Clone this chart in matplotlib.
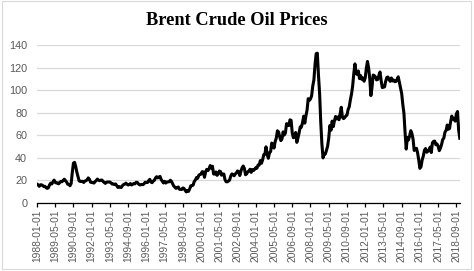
import numpy as np
import matplotlib.pyplot as plt
from matplotlib.patches import Rectangle

# monthly Brent spot price, USD/bbl, 1988-01 .. 2018-12
prices = [
    16.75, 16.03, 14.74, 16.12, 16.08, 15.52, 14.54, 14.78, 13.51, 12.95, 13.43, 15.99,   # 1988
    17.58, 16.83, 18.58, 20.29, 18.28, 17.67, 17.87, 16.97, 18.06, 19.14, 18.85, 20.03,   # 1989
    21.04, 19.83, 18.57, 16.60, 16.36, 15.27, 17.32, 27.16, 35.30, 36.00, 32.25, 27.24,   # 1990
    23.55, 19.56, 19.08, 19.18, 19.19, 18.17, 19.40, 19.77, 20.50, 22.21, 21.11, 18.41,   # 1991
    18.16, 18.05, 17.63, 18.92, 19.89, 21.16, 20.25, 19.74, 20.27, 20.28, 19.13, 18.15,   # 1992
    17.36, 18.43, 18.58, 18.57, 18.56, 17.78, 16.76, 16.88, 16.30, 16.87, 15.26, 13.82,   # 1993
    14.56, 13.82, 13.77, 15.36, 16.37, 16.63, 17.64, 16.66, 15.94, 16.32, 17.23, 15.94,   # 1994
    16.57, 17.23, 16.95, 18.33, 18.25, 17.00, 16.04, 16.05, 16.52, 16.22, 17.05, 18.44,   # 1995
    18.18, 18.14, 19.78, 20.93, 18.63, 17.98, 19.39, 20.02, 22.10, 23.27, 22.22, 23.02,   # 1996
    23.50, 20.76, 19.33, 17.75, 19.17, 17.66, 18.63, 18.68, 18.79, 20.14, 19.19, 17.13,   # 1997
    15.04, 13.95, 12.96, 13.45, 14.17, 12.17, 12.06, 11.95, 13.31, 12.87, 11.23, 9.82,    # 1998
    11.09, 10.29, 12.50, 15.25, 15.38, 15.82, 19.02, 20.32, 22.54, 21.89, 24.54, 25.34,   # 1999
    25.51, 27.78, 27.49, 22.76, 27.74, 29.80, 28.68, 30.20, 33.14, 30.96, 32.55, 25.66,   # 2000
    25.62, 27.50, 24.50, 25.66, 28.31, 27.85, 24.61, 25.68, 25.62, 20.54, 18.80, 18.71,   # 2001
    19.42, 20.28, 23.70, 25.73, 25.35, 24.08, 25.74, 26.65, 28.40, 27.54, 24.34, 28.33,   # 2002
    31.18, 32.77, 30.61, 25.00, 25.86, 27.65, 28.35, 29.89, 27.11, 29.61, 28.75, 29.81,   # 2003
    31.28, 30.86, 33.63, 33.59, 37.57, 35.18, 38.22, 42.74, 43.20, 49.78, 43.11, 39.60,   # 2004
    44.51, 45.48, 53.10, 51.88, 48.65, 54.35, 57.52, 63.98, 62.91, 58.54, 55.24, 56.86,   # 2005
    62.99, 60.21, 62.06, 70.26, 69.78, 68.56, 73.67, 73.23, 61.96, 57.81, 58.76, 62.47,   # 2006
    53.68, 57.56, 62.05, 67.49, 67.21, 71.05, 76.93, 70.76, 77.17, 82.34, 92.41, 90.93,   # 2007
    92.18, 94.99, 103.64, 109.07, 122.80, 132.32, 132.72, 113.24, 97.23, 71.58, 52.45, 39.95,  # 2008
    43.44, 43.32, 46.54, 50.18, 57.30, 68.61, 64.44, 72.51, 67.65, 72.77, 76.66, 74.46,   # 2009
    76.17, 73.75, 78.83, 84.82, 75.95, 74.76, 75.58, 77.04, 77.84, 82.67, 85.28, 91.45,   # 2010
    96.52, 103.72, 114.64, 123.26, 114.99, 113.83, 116.97, 110.22, 112.83, 109.55, 110.77, 107.87,  # 2011
    110.69, 119.33, 125.45, 119.75, 110.34, 95.16, 102.62, 113.36, 112.86, 111.71, 109.06, 109.49,  # 2012
    112.96, 116.05, 108.47, 102.25, 102.56, 102.92, 107.93, 111.28, 111.60, 109.08, 107.79, 110.76,  # 2013
    108.12, 108.90, 107.48, 107.76, 109.54, 111.80, 106.77, 101.61, 97.09, 87.43, 79.44, 62.34,  # 2014
    47.76, 58.10, 55.89, 59.52, 64.08, 61.48, 56.56, 46.52, 47.62, 48.43, 44.27, 38.01,   # 2015
    30.70, 32.18, 38.21, 41.58, 46.74, 48.25, 44.95, 45.84, 46.57, 49.52, 44.73, 53.31,   # 2016
    54.58, 54.87, 51.59, 52.31, 50.33, 46.37, 48.48, 51.70, 56.15, 57.51, 62.71, 64.37,   # 2017
    69.08, 65.32, 66.02, 72.11, 76.98, 74.41, 74.25, 72.53, 78.89, 81.03, 64.75, 57.36,   # 2018
]
start_year = 1988
label_step = 16
y_ticks = [0, 20, 40, 60, 80, 100, 120, 140]

n = len(prices)
dates = ['%d-%02d-01' % (start_year + i // 12, i % 12 + 1) for i in range(n)]
x = np.arange(n)

fig = plt.figure(figsize=(4.74, 2.71), dpi=100)
ax = fig.add_axes([0.078, 0.251, 0.892, 0.583])

ax.plot(x, prices, color='black', lw=2.2, solid_joinstyle='round')

ax.set_xlim(0, n - 1)
ax.set_ylim(0, 140)
ax.set_yticks(y_ticks)
ax.grid(axis='y', color='#d9d9d9', lw=0.9)
ax.set_axisbelow(True)

tick_pos = x[::label_step]
ax.set_xticks(tick_pos)
ax.set_xticklabels([dates[i] for i in tick_pos], rotation=90,
                   fontsize=7.4, color='#595959', family='Liberation Sans')
for lab in ax.get_yticklabels():
    lab.set_fontsize(7.8)
    lab.set_color('#595959')
    lab.set_family('Liberation Sans')

ax.tick_params(axis='y', length=0, pad=7)
ax.tick_params(axis='x', length=3, width=0.9, color='black', pad=1.5)
for s in ['top', 'right', 'left']:
    ax.spines[s].set_visible(False)
ax.spines['bottom'].set_color('black')
ax.spines['bottom'].set_linewidth(0.9)

fig.text(0.5, 0.925, 'Brent Crude Oil Prices', ha='center', va='center',
         fontsize=13.2, fontweight='bold', family='Liberation Serif')

fig.patches.append(Rectangle((0.004, 0.006), 0.99, 0.99, transform=fig.transFigure,
                             fill=False, edgecolor='#d9d9d9', lw=0.8))

fig.savefig('out.png', dpi=100)
